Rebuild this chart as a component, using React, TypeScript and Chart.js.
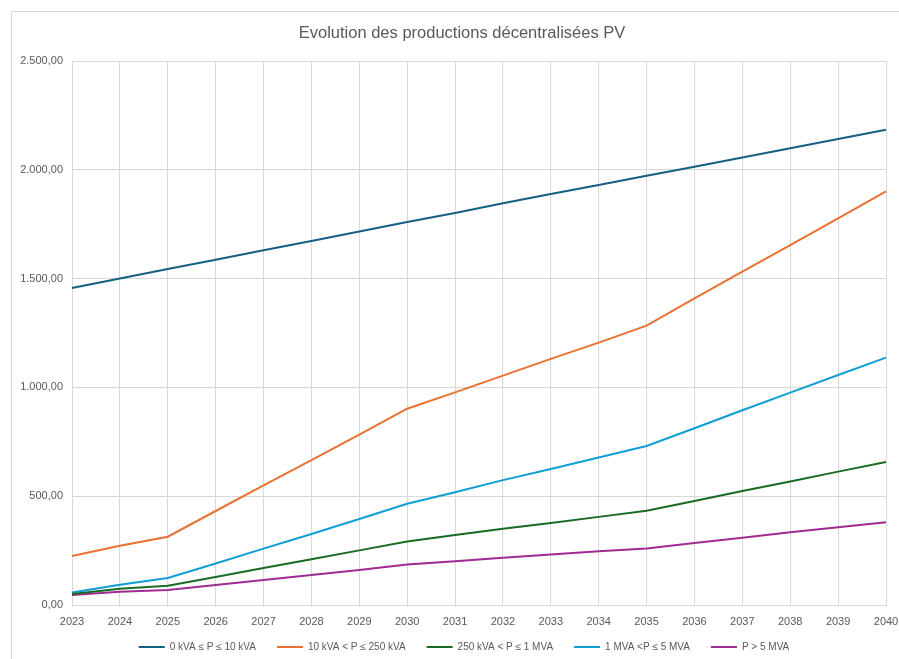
import React, { useEffect, useRef } from "react";
import { Chart, registerables } from "chart.js";

Chart.register(...registerables);

const TITLE = "Evolution des productions décentralisées PV";
const YEARS = ["2023", "2024", "2025", "2026", "2027", "2028", "2029", "2030", "2031", "2032", "2033", "2034", "2035", "2036", "2037", "2038", "2039", "2040"];
const SERIES_NAMES = ["0 kVA ≤ P ≤ 10 kVA", "10 kVA < P ≤ 250 kVA", "250 kVA < P ≤ 1 MVA", "1 MVA <P ≤ 5 MVA", "P > 5 MVA"];
const S_0_10 = [1457, 1500, 1544, 1587, 1630, 1673, 1716, 1760, 1801, 1846, 1889, 1930, 1973, 2014, 2057, 2099, 2142, 2184];
const S_10_250 = [225, 272, 314, 432, 550, 666, 783, 902, 977, 1054, 1131, 1206, 1284, 1409, 1532, 1654, 1777, 1901];
const S_250_1M = [51, 75, 89, 129, 170, 210, 251, 292, 322, 350, 377, 405, 433, 478, 524, 568, 613, 657];
const S_1M_5M = [57, 93, 124, 191, 259, 326, 395, 465, 518, 574, 625, 678, 731, 812, 895, 976, 1057, 1137];
const S_5M = [46, 61, 69, 92, 115, 138, 161, 186, 201, 217, 232, 247, 260, 285, 309, 334, 357, 380];
const COLORS = ["#156082", "#E97132", "#196B24", "#0F9ED5", "#A02B93"];
const Y_MIN = 0;
const Y_MAX = 2500;
const Y_STEP = 500;

const fmt = (v: number) => {
  const fixed = Math.abs(v).toFixed(2);
  const [ip, dp] = fixed.split(".");
  const withSep = ip.replace(/\B(?=(\d{3})+(?!\d))/g, ".");
  return (v < 0 ? "-" : "") + withSep + "," + dp;
};

const FONT = "'Liberation Sans', Arial, sans-serif";
const TEXT = "#595959";
const GRID = "#d9d9d9";

export default function App() {
  const ref = useRef<HTMLCanvasElement | null>(null);
  useEffect(() => {
    if (!ref.current) return;
    const all = [S_0_10, S_10_250, S_250_1M, S_1M_5M, S_5M];
    const framePlugin = {
      id: "frameTitle",
      afterLayout(chart: any) {
        const lg = chart.legend;
        if (lg) {
          lg.left = 42;
          lg.right = 886;
          lg.top -= 7;
          lg.bottom -= 7;
        }
      },
      beforeDraw(chart: any) {
        const ctx = chart.ctx;
        ctx.save();
        ctx.fillStyle = "#ffffff";
        ctx.fillRect(0, 0, chart.width, chart.height);
        ctx.strokeStyle = GRID;
        ctx.lineWidth = 1;
        ctx.strokeRect(11.5, 11.5, 902, 720);
        ctx.fillStyle = TEXT;
        ctx.font = `16.5px ${FONT}`;
        ctx.textAlign = "center";
        ctx.textBaseline = "middle";
        ctx.fillText(TITLE, 462, 33);
        ctx.restore();
      },
    };
    const chart = new Chart(ref.current, {
      type: "line",
      data: {
        labels: YEARS,
        datasets: all.map((d, i) => ({
          label: SERIES_NAMES[i],
          data: d,
          borderColor: COLORS[i],
          backgroundColor: COLORS[i],
          borderWidth: 2,
          pointRadius: 0,
          tension: 0,
          fill: false,
        })),
      },
      options: {
        responsive: false,
        animation: false,
        devicePixelRatio: 1,
        layout: { padding: { left: 10, right: 39, top: 61, bottom: 0 } },
        plugins: {
          title: { display: false },
          tooltip: { enabled: false },
          legend: {
            display: true,
            position: "bottom",
            labels: {
              usePointStyle: true,
              pointStyle: "line",
              pointStyleWidth: 26,
              boxHeight: 10,
              padding: 21,
              color: TEXT,
              font: { family: FONT, size: 10 },
            },
          },
        },
        scales: {
          x: {
            type: "category",
            offset: false,
            grid: { color: GRID, lineWidth: 1, drawTicks: false },
            border: { display: true, color: GRID },
            ticks: { color: TEXT, font: { family: FONT, size: 11 }, padding: 10, maxRotation: 0, autoSkip: false },
            afterFit: (s: any) => { s.height = 23; },
          },
          y: {
            min: Y_MIN,
            max: Y_MAX,
            grid: { color: GRID, lineWidth: 1, drawTicks: false },
            border: { display: true, color: GRID },
            ticks: { stepSize: Y_STEP, color: TEXT, font: { family: FONT, size: 11 }, padding: 9, callback: (v: any) => fmt(Number(v)) },
            afterFit: (s: any) => { s.width = 62; },
          },
        },
      },
      plugins: [framePlugin],
    });
    return () => chart.destroy();
  }, []);
  return (
    <div style={{ position: "fixed", left: 0, top: 0, width: 899, height: 659, overflow: "hidden", background: "#fff" }}>
      <canvas ref={ref} width={925} height={669} style={{ display: "block", width: 925, height: 669 }} />
    </div>
  );
}
